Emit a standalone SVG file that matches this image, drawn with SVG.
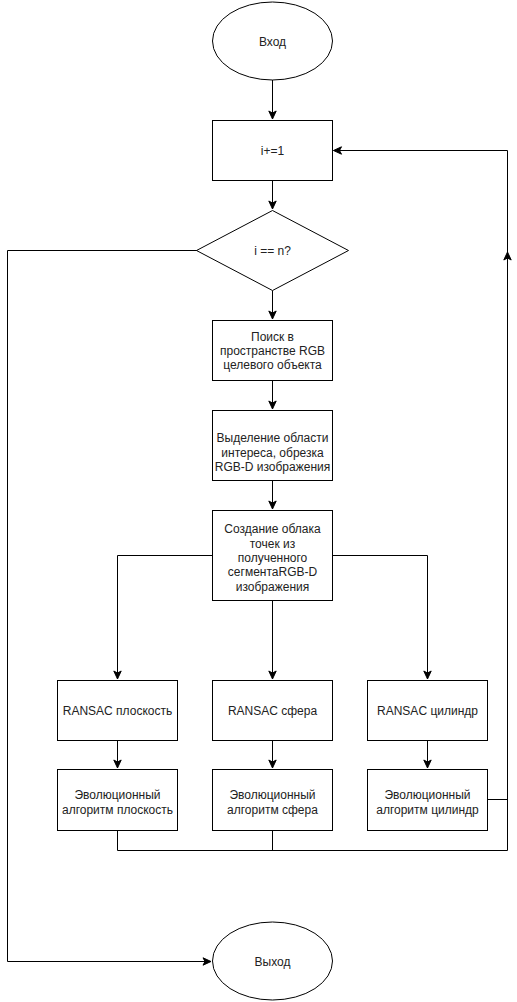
<svg xmlns="http://www.w3.org/2000/svg" width="517" height="1002" viewBox="0 0 517 1002">
  <style>
    .shape { fill: #ffffff; stroke: #000000; stroke-width: 1; }
    .edge { fill: none; stroke: #000000; stroke-width: 1; }
    .label { font-family: "Liberation Sans", Arial, sans-serif; font-size: 12px; fill: #222222; text-anchor: middle; dominant-baseline: central; }
  </style>
  <defs>
    <marker id="arrow" markerUnits="userSpaceOnUse" markerWidth="10" markerHeight="10" viewBox="0 0 10 10" refX="9" refY="5" orient="auto">
      <path d="M1,1.3 L9,5 L1,8.7 L3,5 Z" fill="#000000" stroke="#000000" stroke-width="1"/>
    </marker>
  </defs>
  <rect width="517" height="1002" fill="#ffffff"/>

  <g id="connectors">
    <path class="edge" d="M272.5,80 V119" marker-end="url(#arrow)"/>
    <path class="edge" d="M272.5,180.5 V209" marker-end="url(#arrow)"/>
    <path class="edge" d="M272.5,290.5 V319" marker-end="url(#arrow)"/>
    <path class="edge" d="M272.5,380.5 V409" marker-end="url(#arrow)"/>
    <path class="edge" d="M272.5,480.5 V509" marker-end="url(#arrow)"/>
    <path class="edge" d="M212.5,555.5 H117.5 V679" marker-end="url(#arrow)"/>
    <path class="edge" d="M272.5,600.5 V679" marker-end="url(#arrow)"/>
    <path class="edge" d="M332.5,555.5 H427.5 V679" marker-end="url(#arrow)"/>
    <path class="edge" d="M117.5,740.5 V768" marker-end="url(#arrow)"/>
    <path class="edge" d="M272.5,740.5 V768" marker-end="url(#arrow)"/>
    <path class="edge" d="M427.5,740.5 V768" marker-end="url(#arrow)"/>
    <path class="edge" d="M117.5,830.5 V850.5 H507.5"/>
    <path class="edge" d="M272.5,830.5 V850.5"/>
    <path class="edge" d="M487.5,799.5 H507.5"/>
    <path class="edge" d="M507.5,850.5 V252" marker-end="url(#arrow)"/>
    <path class="edge" d="M507.5,252 V150.5 H333.5" marker-end="url(#arrow)"/>
    <path class="edge" d="M198.5,250.5 H7.5 V961.5 H211" marker-end="url(#arrow)"/>
  </g>

  <g id="start">
    <ellipse class="shape" cx="272.5" cy="41" rx="60" ry="39"/>
    <text class="label" x="272.5" y="42">Вход</text>
  </g>

  <g id="increment">
    <rect class="shape" x="212.5" y="120.5" width="120" height="60"/>
    <text class="label" x="272.5" y="151">i+=1</text>
  </g>

  <g id="condition">
    <path class="shape" d="M272.5,210.5 L348.5,250.5 L272.5,290.5 L196.5,250.5 Z"/>
    <text class="label" x="272.5" y="251">i == n?</text>
  </g>

  <g id="search">
    <rect class="shape" x="212.5" y="320.5" width="120" height="60"/>
    <text class="label" x="272.5" y="337">Поиск в</text>
    <text class="label" x="272.5" y="351">пространстве RGB</text>
    <text class="label" x="272.5" y="365">целевого объекта</text>
  </g>

  <g id="crop">
    <rect class="shape" x="212.5" y="410.5" width="120" height="70"/>
    <text class="label" x="272.5" y="438">Выделение области</text>
    <text class="label" x="272.5" y="452.5">интереса, обрезка</text>
    <text class="label" x="272.5" y="467">RGB-D изображения</text>
  </g>

  <g id="cloud">
    <rect class="shape" x="212.5" y="510.5" width="120" height="90"/>
    <text class="label" x="272.5" y="529">Создание облака</text>
    <text class="label" x="272.5" y="543.5">точек из</text>
    <text class="label" x="272.5" y="558">полученного</text>
    <text class="label" x="272.5" y="572">сегментаRGB-D</text>
    <text class="label" x="272.5" y="586.5">изображения</text>
  </g>

  <g id="ransac-plane">
    <rect class="shape" x="57.5" y="680.5" width="120" height="60"/>
    <text class="label" x="117.5" y="711">RANSAC плоскость</text>
  </g>
  <g id="ransac-sphere">
    <rect class="shape" x="212.5" y="680.5" width="120" height="60"/>
    <text class="label" x="272.5" y="711">RANSAC сфера</text>
  </g>
  <g id="ransac-cylinder">
    <rect class="shape" x="367.5" y="680.5" width="120" height="60"/>
    <text class="label" x="427.5" y="711">RANSAC цилиндр</text>
  </g>

  <g id="evo-plane">
    <rect class="shape" x="57.5" y="769.5" width="120" height="61"/>
    <text class="label" x="117.5" y="795">Эволюционный</text>
    <text class="label" x="117.5" y="809.5">алгоритм плоскость</text>
  </g>
  <g id="evo-sphere">
    <rect class="shape" x="212.5" y="769.5" width="120" height="61"/>
    <text class="label" x="272.5" y="795">Эволюционный</text>
    <text class="label" x="272.5" y="809.5">алгоритм сфера</text>
  </g>
  <g id="evo-cylinder">
    <rect class="shape" x="367.5" y="769.5" width="120" height="61"/>
    <text class="label" x="427.5" y="795">Эволюционный</text>
    <text class="label" x="427.5" y="809.5">алгоритм цилиндр</text>
  </g>

  <g id="end">
    <ellipse class="shape" cx="272.5" cy="961" rx="60" ry="39"/>
    <text class="label" x="272.5" y="962">Выход</text>
  </g>
</svg>
